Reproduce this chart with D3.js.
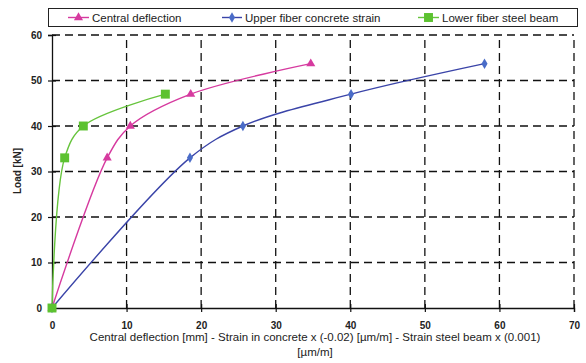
<!DOCTYPE html>
<html><head><meta charset="utf-8">
<script src="https://cdn.jsdelivr.net/npm/d3@7"></script>
<style>body{margin:0;background:#fff}svg{display:block;font-family:"Liberation Sans",Arial,sans-serif}</style>
</head><body><svg id="c" width="586" height="363"></svg>
<script>
const xTicks=[0,10,20,30,40,50,60,70];
const yTicks=[0,10,20,30,40,50,60];
const seriesNames=["Central deflection","Upper fiber concrete strain","Lower fiber steel beam"];
const centralX=[0,7.4,10.5,18.6,34.7];
const centralY=[0,33,40,47,53.7];
const upperX=[0,18.5,25.6,40.1,58.0];
const upperY=[0,33,40,47,53.7];
const lowerX=[0,1.7,4.2,15.2];
const lowerY=[0,33,40,47];

const svg=d3.select("#c");
const x=d3.scaleLinear().domain([0,70]).range([52,574]);
const y=d3.scaleLinear().domain([0,60]).range([308,35]);

// grid
svg.append("g").selectAll("line").data(yTicks.filter(d=>d>0)).join("line")
 .attr("x1",x(0)).attr("x2",x(70)).attr("y1",d=>y(d)).attr("y2",d=>y(d))
 .attr("stroke","#111").attr("stroke-width",1.3).attr("stroke-dasharray","8,5");
svg.append("g").selectAll("line").data(xTicks.filter(d=>d>0)).join("line")
 .attr("y1",y(0)).attr("y2",y(60)).attr("x1",d=>x(d)).attr("x2",d=>x(d))
 .attr("stroke","#111").attr("stroke-width",1.3).attr("stroke-dasharray","8,5");

// axes
const xa=svg.append("g").attr("transform",`translate(0,${y(0)})`)
 .call(d3.axisBottom(x).tickValues(xTicks).tickSize(4).tickPadding(10));
const ya=svg.append("g").attr("transform",`translate(${x(0)},0)`)
 .call(d3.axisLeft(y).tickValues(yTicks).tickSize(4).tickPadding(6));
xa.selectAll(".tick line").attr("y1",-4);
ya.selectAll(".tick line").attr("x1",4);
[xa,ya].forEach(a=>{a.select(".domain").attr("stroke","#111").attr("stroke-width",1.3);
 a.selectAll(".tick line").attr("stroke","#111").attr("stroke-width",1.2);
 a.selectAll("text").attr("font-size",10).attr("font-weight","bold").attr("fill","#222").attr("font-family","'Liberation Sans',Arial,sans-serif");});

const line=d3.line().x(d=>x(d[0])).y(d=>y(d[1])).curve(d3.curveCatmullRom.alpha(0.5));
const series=[
 {name:seriesNames[0],xs:centralX,ys:centralY,line:"#d63a9f",mark:"#d63a9f",sym:d3.symbolTriangle,size:36},
 {name:seriesNames[1],xs:upperX,ys:upperY,line:"#3a44a8",mark:"#4a6cc8",sym:d3.symbolDiamond,size:32},
 {name:seriesNames[2],xs:lowerX,ys:lowerY,line:"#66c43c",mark:"#5cc230",sym:d3.symbolSquare,size:80}
];
series.forEach(s=>{
 const pts=s.xs.map((v,i)=>[v,s.ys[i]]);
 svg.append("path").datum(pts).attr("d",line).attr("fill","none").attr("stroke",s.line).attr("stroke-width",1.4);
});
series.forEach(s=>{
 const pts=s.xs.map((v,i)=>[v,s.ys[i]]);
 svg.append("g").selectAll("path").data(pts).join("path")
  .attr("transform",d=>`translate(${x(d[0])},${y(d[1])})`)
  .attr("d",d3.symbol(s.sym,s.size)).attr("fill",s.mark);
});

// legend
const lg=svg.append("g");
lg.append("rect").attr("x",48.5).attr("y",8.5).attr("width",529).attr("height",18)
 .attr("fill","#fff").attr("stroke","#222").attr("stroke-width",1);
const lx=[68,222,418];
const tx=[92,245,442];
series.forEach((s,i)=>{
 lg.append("line").attr("x1",lx[i]).attr("x2",tx[i]-3).attr("y1",17.5).attr("y2",17.5).attr("stroke",s.line).attr("stroke-width",1.4);
 lg.append("path").attr("transform",`translate(${(lx[i]+tx[i]-3)/2},17.5)`).attr("d",d3.symbol(s.sym,s.size)).attr("fill",s.mark);
 lg.append("text").attr("x",tx[i]).attr("y",21.5).attr("font-size",11.5).attr("fill","#222").text(s.name);
});

// axis titles
svg.append("text").attr("transform","translate(21,171) rotate(-90)").attr("text-anchor","middle")
 .attr("font-size",10).attr("font-weight","bold").attr("fill","#222").text("Load [kN]");
svg.append("text").attr("x",315).attr("y",341).attr("text-anchor","middle").attr("font-size",11.5).attr("fill","#222")
 .text("Central deflection [mm] - Strain in concrete x (-0.02) [µm/m] - Strain steel beam x (0.001)");
svg.append("text").attr("x",315).attr("y",356).attr("text-anchor","middle").attr("font-size",11.5).attr("fill","#222")
 .text("[µm/m]");
</script></body></html>
